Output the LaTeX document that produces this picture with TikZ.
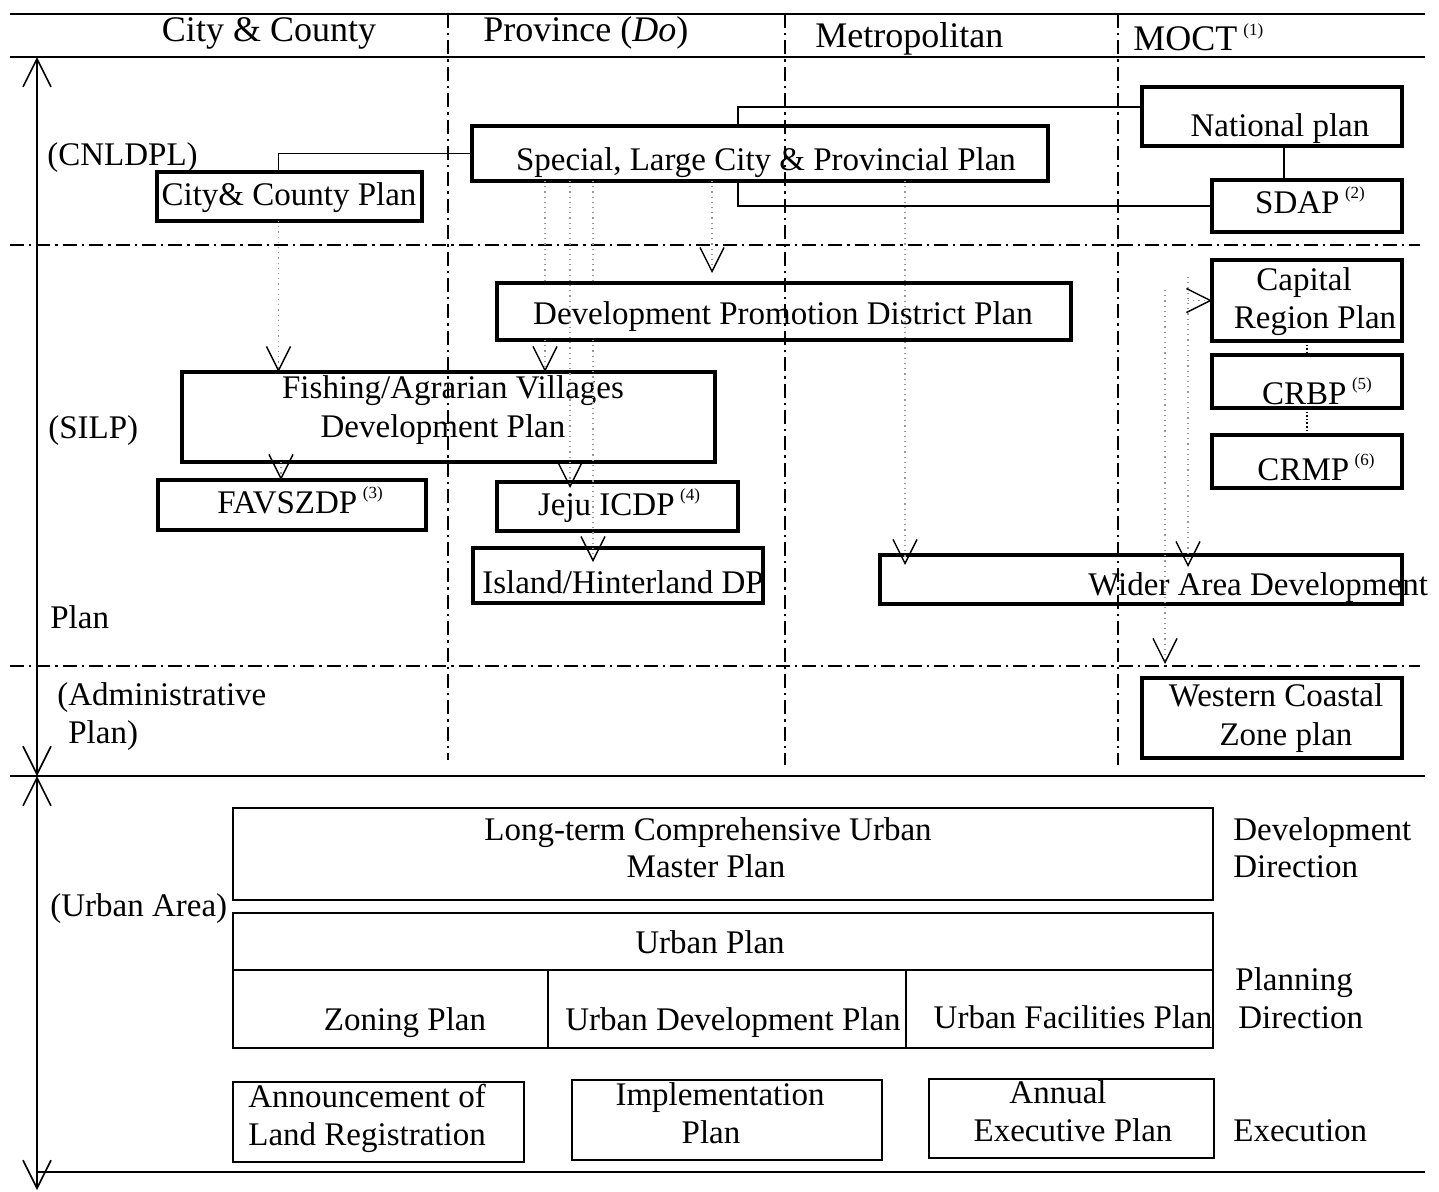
\documentclass[tikz,border=0pt]{standalone}
\usepackage{fontspec}
\setmainfont{Liberation Serif}
\usetikzlibrary{arrows.meta,fit}
\newcommand\supn[1]{\,\raisebox{7.5pt}{\fontsize{8.5}{8.5}\selectfont #1}}
\newcommand\bodysize{\fontsize{16.5}{18.5}\selectfont}
\newcommand\headsize{\fontsize{18}{20}\selectfont}
\tikzset{
  vhead/.tip={Straight Barb[length=12pt, width=12pt, line width=0.7pt, color=black]},
  axhead/.tip={Straight Barb[length=14pt, width=14pt, line width=0.8pt]},
}
\begin{document}
\begin{tikzpicture}[x=0.5pt,y=-0.5pt,
  box/.style={draw, line width=1.6pt, inner sep=0pt, outer sep=0pt},
  ubox/.style={box, line width=1.4pt},
  txt/.style={inner sep=0pt, font=\bodysize, anchor=base},
  ltxt/.style={inner sep=0pt, font=\bodysize, anchor=base west},
  htxt/.style={inner sep=0pt, font=\headsize},
  rule/.style={line width=1pt},
  sep/.style={line width=0.55pt, dash pattern=on 7pt off 2.5pt on 1.2pt off 2.5pt},
  link/.style={line width=0.9pt},
  flowline/.style={draw=black!40, dotted, line width=0.6pt},
  flow/.style={flowline, -vhead},
]
\useasboundingbox (0,0) rectangle (1439,1191);

% ---- frame: rules and column separators
\draw[rule] (10,14) -- (1425,14);
\draw[rule] (10,57) -- (1425,57);
\draw[rule] (10,776) -- (1425,776);
\draw[rule] (37,1172) -- (1425,1172);
\draw[sep] (10,245) -- (1420,245);
\draw[sep] (10,666) -- (1420,666);
\draw[sep] (448,14) -- (448,760);
\draw[sep] (785,14) -- (785,765);
\draw[sep] (1118,14) -- (1118,765);

% ---- vertical axis
\coordinate (axtop) at (37,57);
\coordinate (axmid) at (37,776);
\coordinate (axbot) at (37,1190);
\draw[line width=0.9pt, axhead-axhead] (axtop) -- (axmid);
\draw[line width=0.9pt, axhead-axhead] (axmid) -- (axbot);

% ---- column headings
\node[htxt, anchor=base] (hcity) at (269,41) {City \& County};
\node[htxt, anchor=base west] (hprov) at (483,41) {Province (\textit{Do})};
\node[htxt, anchor=base west] (hmetro) at (815,47) {Metropolitan};
\node[htxt, anchor=base west] (hmoct) at (1133,50) {MOCT\supn{(1)}};

% ---- row labels
\node[ltxt] (lcnl) at (47,165) {(CNLDPL)};
\node[ltxt] (lsilp) at (48,438) {(SILP)};
\node[ltxt] (lplan) at (50,628) {Plan};
\node[ltxt] (ladm1) at (57,705) {(Administrative};
\node[ltxt] (ladm2) at (68,743) {Plan)};
\node[ltxt] (lurb) at (50,916) {(Urban Area)};

% ---- upper plan boxes
\node[box, fit={(157,172) (422,221)}] (ccp) {};
\node[txt] (ccpT) at (289,205) {City\& County Plan};
\node[box, fit={(472,126) (1048,181)}] (spc) {};
\node[txt] (spcT) at (766,170) {Special, Large City \& Provincial Plan};
\node[box, fit={(1142,87) (1402,146)}] (nat) {};
\node[txt] (natT) at (1280,136) {National plan};
\node[box, fit={(1212,180) (1402,232)}] (sdap) {};
\node[txt] (sdapT) at (1310,213) {SDAP\supn{(2)}};

\node[box, fit={(497,283) (1071,340)}] (dpd) {};
\node[txt] (dpdT) at (783,324) {Development Promotion District Plan};
\node[box, fit={(1212,260) (1402,341)}] (crp) {};
\node[txt] (crpT1) at (1304,290) {Capital};
\node[txt] (crpT2) at (1315,328) {Region Plan};
\node[box, fit={(1212,355) (1402,408)}] (crbp) {};
\node[txt] (crbpT) at (1317,404) {CRBP\supn{(5)}};
\node[box, fit={(1212,435) (1402,488)}] (crmp) {};
\node[txt] (crmpT) at (1316,480) {CRMP\supn{(6)}};

\node[box, fit={(182,372) (715,462)}] (fav) {};
\node[txt] (favT1) at (453,398) {Fishing/Agrarian Villages};
\node[txt] (favT2) at (443,437) {Development Plan};
\node[box, fit={(158,480) (426,530)}] (favs) {};
\node[txt] (favsT) at (300,513) {FAVSZDP\supn{(3)}};
\node[box, fit={(497,482) (738,531)}] (jeju) {};
\node[txt] (jejuT) at (619,515) {Jeju ICDP\supn{(4)}};
\node[box, fit={(473,548) (763,603)}] (isl) {};
\node[txt] (islT) at (623,593) {Island/Hinterland DP};
\node[box, fit={(880,555) (1402,604)}] (wider) {};
\node[ltxt] (widerT) at (1088,595) {Wider Area Development};
\node[box, fit={(1142,678) (1402,758)}] (wcz) {};
\node[txt] (wczT1) at (1276,706) {Western Coastal};
\node[txt] (wczT2) at (1286,745) {Zone plan};

% ---- solid links between plans
\draw[link] ([xshift=-5.5pt]ccp.north) |- (spc.west);
\draw[link] ([yshift=4.75pt]nat.west) -| ([xshift=-11pt]spc.north);
\draw[link] ([xshift=-11pt]spc.south) |- (sdap.west);
\draw[link] ([xshift=6pt]nat.south) -- ([xshift=6pt]nat.south |- sdap.north);
\draw[line width=0.8pt, densely dotted] (crp.south) -- (crbp.north);
\draw[line width=0.8pt, densely dotted] (crbp.south) -- (crmp.north);

% ---- dotted derivation arrows
\draw[flow] ([xshift=-5.5pt]ccp.south) -- ([xshift=-5.5pt]ccp.south |- fav.north);
\draw[flow, shorten >=5pt] ([xshift=-24pt]spc.south) -- ([xshift=-24pt]spc.south |- dpd.north);
\draw[flowline] ([xshift=-107.5pt]spc.south) -- ([xshift=-107.5pt]spc.south |- dpd.north);
\draw[flow] ([xshift=-107.5pt]spc.south |- dpd.south) -- ([xshift=-107.5pt]spc.south |- fav.north);
\draw[flow, shorten >=-3pt] ([xshift=-95pt]spc.south) -- ([xshift=-95pt]spc.south |- jeju.north);
\draw[flowline] ([xshift=-83.5pt]spc.south) -- ([xshift=-83.5pt]spc.south |- dpd.north);
\draw[flow, shorten >=-7pt] ([xshift=-83.5pt]spc.south |- dpd.south) -- ([xshift=-83.5pt]spc.south |- isl.north);
\draw[flow, shorten >=-5pt] ([xshift=72.5pt]spc.south) -- ([xshift=72.5pt]spc.south |- wider.north);
\draw[flow] ([xshift=-5.5pt]favs.north |- fav.south) -- ([xshift=-5.5pt]favs.north);

\coordinate (srcA) at (1188,277);
\coordinate (srcB) at (1165,290);
\draw[flow, shorten >=-6pt] (srcA) -- (srcA |- wider.north);
\draw[flow] (crp.west -| srcA) -- (crp.west);
\draw[flow, shorten >=7pt] (srcB) -- (srcB |- wcz.north);

% ---- urban area plans
\node[ubox, fit={(233,808) (1213,900)}] (ltc) {};
\node[txt] (ltcT1) at (708,840) {Long-term Comprehensive Urban};
\node[txt] (ltcT2) at (706,877) {Master Plan};
\node[ubox, fit={(233,913) (1213,970)}] (upt) {};
\node[txt] (uptT) at (710,953) {Urban Plan};
\node[ubox, fit={(233,970) (548,1048)}] (zon) {};
\node[txt] (zonT) at (405,1030) {Zoning Plan};
\node[ubox, fit={(548,970) (906,1048)}] (udp) {};
\node[txt] (udpT) at (733,1030) {Urban Development Plan};
\node[ubox, fit={(906,970) (1213,1048)}] (ufp) {};
\node[txt] (ufpT) at (1073,1028) {Urban Facilities Plan};

\node[ubox, fit={(233,1082) (524,1162)}] (alr) {};
\node[ltxt] (alrT1) at (248,1107) {Announcement of};
\node[ltxt] (alrT2) at (248,1145) {Land Registration};
\node[ubox, fit={(572,1080) (882,1160)}] (imp) {};
\node[txt] (impT1) at (720,1105) {Implementation};
\node[txt] (impT2) at (711,1143) {Plan};
\node[ubox, fit={(929,1079) (1214,1158)}] (aep) {};
\node[txt] (aepT1) at (1058,1103) {Annual};
\node[txt] (aepT2) at (1073,1141) {Executive Plan};

% ---- stage labels
\node[ltxt] (rdev1) at (1233,840) {Development};
\node[ltxt] (rdev2) at (1233,877) {Direction};
\node[ltxt] (rpl1) at (1235,990) {Planning};
\node[ltxt] (rpl2) at (1238,1028) {Direction};
\node[ltxt] (rexe) at (1233,1141) {Execution};
\end{tikzpicture}
\end{document}
